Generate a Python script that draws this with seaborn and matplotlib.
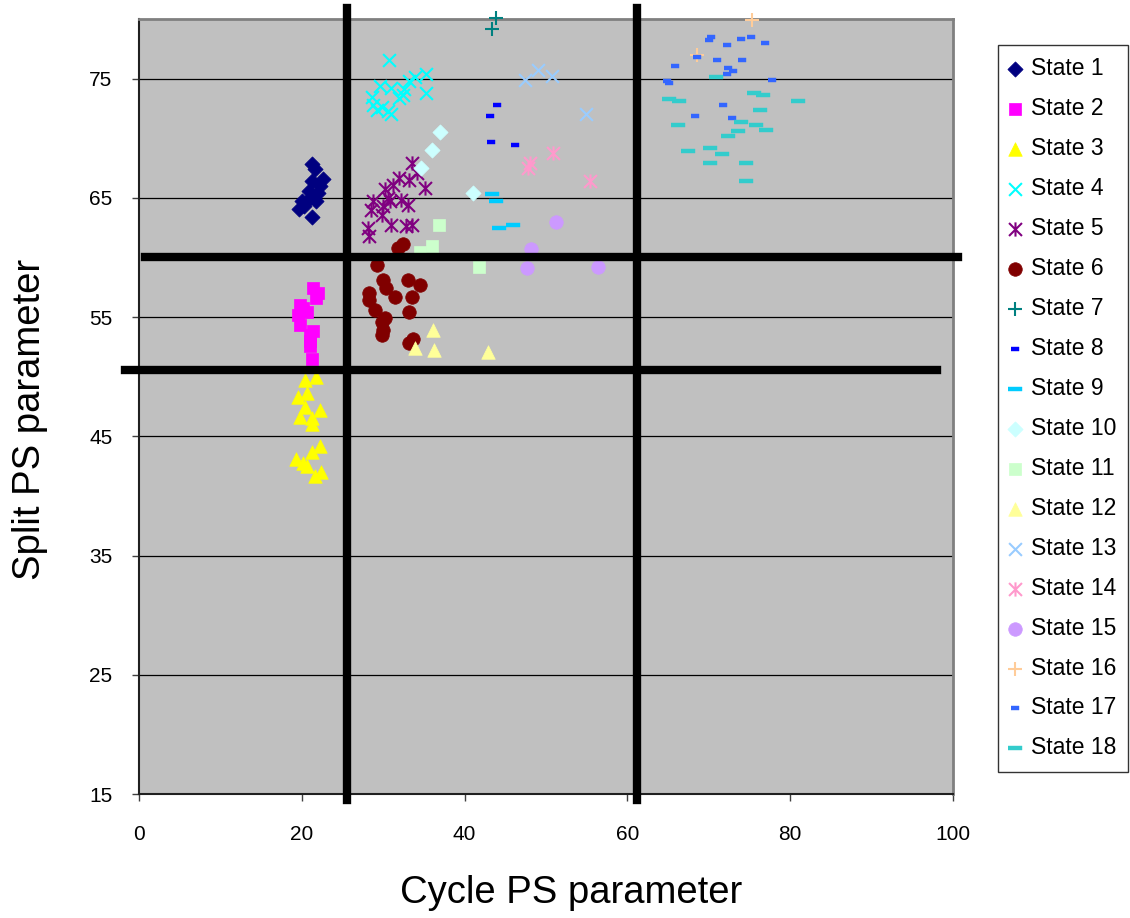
import numpy as np
import pandas as pd
import matplotlib
matplotlib.use("Agg")
import matplotlib.pyplot as plt
from matplotlib.path import Path
import seaborn as sns

# data (Cycle PS, Split PS) per state
s1_x = [21.2, 21.6, 22.6, 21.3, 20.9, 22.0, 21.8, 20.0, 19.6, 21.3, 21.5, 22.2, 21.0, 20.3]
s1_y = [67.8, 67.4, 66.6, 66.4, 65.6, 65.4, 64.7, 64.7, 64.1, 63.4, 65.0, 66.0, 65.0, 64.3]
s2_x = [21.4, 21.8, 19.8, 19.5, 20.6, 19.8, 21.0, 21.0, 21.2, 21.4, 21.0, 22.0, 20.2]
s2_y = [57.4, 56.6, 56.0, 55.2, 55.4, 54.3, 53.5, 52.6, 51.5, 53.8, 53.0, 57.0, 55.8]
s3_x = [20.4, 21.8, 19.5, 20.6, 20.4, 19.8, 22.2, 21.3, 21.2, 19.3, 20.1, 21.2, 22.2, 20.6, 21.6, 22.4]
s3_y = [49.7, 50.0, 48.3, 48.6, 47.5, 46.6, 47.2, 46.5, 46.0, 43.1, 42.8, 43.7, 44.2, 42.5, 41.7, 42.0]
s4_x = [30.7, 35.3, 33.9, 33.2, 29.6, 31.0, 35.3, 32.6, 32.0, 28.6, 28.8, 29.2, 30.6, 31.0, 29.9, 32.4]
s4_y = [76.6, 75.4, 75.1, 74.8, 74.4, 74.2, 73.8, 74.1, 73.4, 73.5, 72.8, 72.4, 72.3, 72.0, 72.6, 73.6]
s5_x = [33.5, 34.1, 32.0, 31.2, 30.2, 28.8, 30.6, 32.2, 33.0, 35.1, 30.0, 28.5, 29.8, 31.0, 32.8, 33.5, 28.1, 28.3, 33.2, 30.8]
s5_y = [67.9, 67.1, 66.7, 66.1, 65.7, 64.7, 65.0, 64.8, 64.4, 65.8, 64.3, 64.0, 63.6, 62.7, 62.6, 62.7, 62.5, 61.8, 66.5, 64.7]
s6_x = [32.4, 31.8, 29.2, 30.0, 33.0, 30.4, 34.5, 28.3, 31.4, 33.5, 28.3, 29.0, 33.2, 30.2, 29.8, 30.0, 29.8, 33.7, 33.2]
s6_y = [61.1, 60.8, 59.4, 58.1, 58.1, 57.4, 57.7, 57.0, 56.7, 56.7, 56.4, 55.6, 55.4, 54.9, 54.6, 53.9, 53.5, 53.2, 52.8]
s7_x = [43.9, 43.4]
s7_y = [80.1, 79.2]
s8_x = [44.0, 43.1, 43.3, 46.2]
s8_y = [72.8, 71.9, 69.7, 69.4]
s9_x = [43.4, 43.9, 44.2, 45.9]
s9_y = [65.3, 64.7, 62.5, 62.7]
s10_x = [37.0, 36.0, 34.6, 41.0]
s10_y = [70.5, 69.0, 67.5, 65.4]
s11_x = [36.9, 36.0, 34.5, 41.8]
s11_y = [62.7, 61.0, 60.5, 59.2]
s12_x = [36.1, 33.9, 36.3, 42.9]
s12_y = [53.9, 52.4, 52.2, 52.1]
s13_x = [49.0, 47.4, 50.7, 54.9]
s13_y = [75.7, 74.9, 75.2, 72.0]
s14_x = [50.8, 48.0, 47.8, 55.4]
s14_y = [68.8, 67.9, 67.5, 66.4]
s15_x = [51.2, 48.2, 47.7, 56.4]
s15_y = [63.0, 60.7, 59.1, 59.2]
s16_x = [75.3, 68.6]
s16_y = [79.9, 77.0]
s17_x = [70.3, 70.0, 72.2, 74.0, 75.2, 76.9, 68.6, 71.0, 74.1, 65.9, 72.4, 73.0, 72.2, 64.9, 65.1, 77.8, 71.7, 68.3, 72.9]
s17_y = [78.5, 78.2, 77.8, 78.3, 78.5, 78.0, 76.8, 76.6, 76.6, 76.1, 75.9, 75.6, 75.4, 74.8, 74.6, 74.9, 72.8, 71.9, 71.7]
s18_x = [70.9, 65.1, 66.3, 75.5, 76.7, 81.0, 76.3, 74.0, 75.8, 77.0, 73.6, 72.4, 66.2, 70.1, 67.5, 71.6, 70.1, 74.6, 74.6]
s18_y = [75.1, 73.3, 73.1, 73.8, 73.6, 73.1, 72.4, 71.4, 71.1, 70.7, 70.6, 70.2, 71.1, 69.2, 68.9, 68.7, 67.9, 67.9, 66.4]

xs = [s1_x, s2_x, s3_x, s4_x, s5_x, s6_x, s7_x, s8_x, s9_x,
      s10_x, s11_x, s12_x, s13_x, s14_x, s15_x, s16_x, s17_x, s18_x]
ys = [s1_y, s2_y, s3_y, s4_y, s5_y, s6_y, s7_y, s8_y, s9_y,
      s10_y, s11_y, s12_y, s13_y, s14_y, s15_y, s16_y, s17_y, s18_y]
names = ["State %d" % (i + 1) for i in range(18)]

# thick divider lines (data coords)
vlines_x = [25.6, 61.2]
hlines = [(60.0, 0.7, 100.6), (50.6, -1.7, 98.0)]

colors = ["#000080", "#FF00FF", "#FFFF00", "#00FFFF", "#800080", "#800000",
          "#008080", "#0000FF", "#00CCFF", "#CCFFFF", "#CCFFCC", "#FFFF99",
          "#99CCFF", "#FF99CC", "#CC99FF", "#FFCC99", "#3366FF", "#33CCCC"]

star = Path([(-1, -1), (1, 1), (-1, 1), (1, -1), (0, -1.1), (0, 1.1)],
            [Path.MOVETO, Path.LINETO, Path.MOVETO, Path.LINETO, Path.MOVETO, Path.LINETO])
short_dash = [(-1, -0.5), (1, -0.5), (1, 0.5), (-1, 0.5)]
long_dash = [(-1, -0.28), (1, -0.28), (1, 0.28), (-1, 0.28)]

# marker, size, linewidth
styles = [("D", 60, 0.5), ("s", 80, 0.5), ("^", 95, 0.5), ("x", 85, 1.5),
          (star, 105, 1.5), ("o", 95, 0.5), ("+", 90, 1.5), (short_dash, 36, 0.3),
          (long_dash, 105, 0.3)]
styles = styles + styles

plt.rcParams["font.family"] = ["Liberation Sans", "DejaVu Sans"]

fig = plt.figure(figsize=(11.3, 9.18), dpi=100)
ax = fig.add_axes([139 / 1130, 1 - 794 / 918, (953 - 139) / 1130, (794 - 19) / 918])
ax.set_facecolor("#C0C0C0")

for i in range(18):
    df = pd.DataFrame({"cycle": xs[i], "split": ys[i]})
    mk, sz, lw = styles[i]
    sns.scatterplot(data=df, x="cycle", y="split", ax=ax, marker=mk, s=sz,
                    color=colors[i], edgecolor=colors[i], linewidth=lw,
                    label=names[i], zorder=3, clip_on=False)

for xv in vlines_x:
    ax.plot([xv, xv], [14.5, 80.9], color="black", lw=6, clip_on=False, zorder=4)
for yv, x0, x1 in hlines:
    ax.plot([x0, x1], [yv, yv], color="black", lw=6, clip_on=False, zorder=4)

ax.set_xlim(0, 100)
ax.set_ylim(15, 80)
ax.set_xticks([0, 20, 40, 60, 80, 100])
ax.set_yticks([15, 25, 35, 45, 55, 65, 75])
ax.yaxis.grid(True, color="black", lw=0.9)
ax.set_axisbelow(True)
ax.tick_params(labelsize=15, length=5, width=1, color="#404040")
ax.tick_params(axis="x", pad=17)
ax.tick_params(axis="y", pad=14)

for side in ["top", "right"]:
    ax.spines[side].set_color("#808080")
    ax.spines[side].set_linewidth(2)
for side in ["left", "bottom"]:
    ax.spines[side].set_color("#202020")
    ax.spines[side].set_linewidth(1.5)

ax.set_xlabel("Cycle PS parameter", fontsize=27.5)
ax.set_ylabel("Split PS parameter", fontsize=27.5)
# label centres (axes fraction) taken from the reference layout
ax.xaxis.set_label_coords((571 - 139) / 814, -(893 - 794) / 775, transform=ax.transAxes)
ax.yaxis.set_label_coords(-(139 - 30) / 814, (794 - 419) / 775, transform=ax.transAxes)
ax.xaxis.label.set_va("center")
ax.yaxis.label.set_va("center")

leg = ax.legend(loc="upper left", bbox_to_anchor=(998 / 1130, 1 - 45 / 918),
                bbox_transform=fig.transFigure, fontsize=16.5, frameon=True,
                fancybox=False, edgecolor="black", labelspacing=0.74,
                handletextpad=0.44, handlelength=0.45, borderpad=0.53,
                borderaxespad=0, scatterpoints=1)
leg.get_frame().set_linewidth(1)

plt.savefig("out.png", dpi=100)
